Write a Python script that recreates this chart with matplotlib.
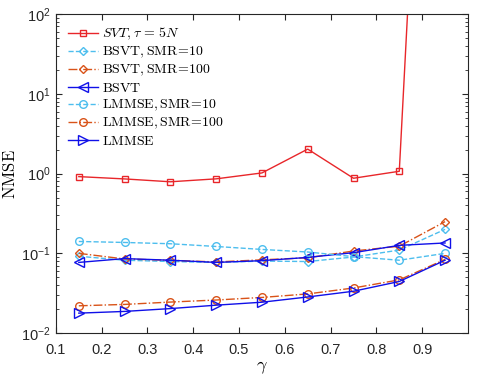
import numpy as np
import matplotlib
matplotlib.use("Agg")
import matplotlib.pyplot as plt
from matplotlib.ticker import FixedLocator, LogLocator, NullFormatter, FuncFormatter

plt.rcParams['font.family'] = ['Liberation Sans', 'DejaVu Sans']
plt.rcParams['mathtext.fontset'] = 'cm'

gamma = [0.15, 0.25, 0.35, 0.45, 0.55, 0.65, 0.75, 0.85, 0.95]

svt = [0.917, 0.858, 0.79, 0.86, 1.02, 2.03, 0.875, 1.07, 1e11]
bsvt_smr10 = [0.092, 0.082, 0.079, 0.077, 0.080, 0.079, 0.090, 0.110, 0.200]
bsvt_smr100 = [0.100, 0.085, 0.082, 0.078, 0.083, 0.088, 0.107, 0.123, 0.250]
bsvt = [0.077, 0.086, 0.082, 0.077, 0.081, 0.089, 0.102, 0.126, 0.135]
lmmse_smr10 = [0.141, 0.137, 0.132, 0.122, 0.112, 0.104, 0.091, 0.082, 0.100]
lmmse_smr100 = [0.0220, 0.0229, 0.0245, 0.0260, 0.0280, 0.0310, 0.0368, 0.0465, 0.084]
lmmse = [0.0178, 0.0187, 0.0203, 0.0224, 0.0244, 0.0284, 0.0335, 0.0444, 0.082]

red = '#E8262A'
lblue = '#4DBEEE'
orange = '#D95319'
blue = '#1010E8'

fig = plt.figure(figsize=(4.78, 3.82), dpi=100)
ax = fig.add_axes([0.117, 0.128, 0.862, 0.835])

ms = 5.5
kw = dict(mfc='none', lw=1, mew=1)
ax.plot(gamma, svt, '-', color=red, marker='s', ms=ms - 0.5, label=r'$SVT, \tau\,=\,5N$', **kw)
ax.plot(gamma, bsvt_smr10, '--', color=lblue, marker='D', ms=ms - 1, label=r'$\mathrm{BSVT, SMR}\!=\!10$', **kw)
ax.plot(gamma, bsvt_smr100, '-.', color=orange, marker='D', ms=ms - 1, label=r'$\mathrm{BSVT, SMR}\!=\!100$', **kw)
ax.plot(gamma, bsvt, '-', color=blue, marker='<', ms=ms + 1, label=r'$\mathrm{BSVT}$', **kw)
ax.plot(gamma, lmmse_smr10, '--', color=lblue, marker='o', ms=ms, label=r'$\mathrm{LMMSE, SMR}\!=\!10$', **kw)
ax.plot(gamma, lmmse_smr100, '-.', color=orange, marker='o', ms=ms, label=r'$\mathrm{LMMSE, SMR}\!=\!100$', **kw)
ax.plot(gamma, lmmse, '-', color=blue, marker='>', ms=ms + 1, label=r'$\mathrm{LMMSE}$', **kw)

ax.set_yscale('log')
ax.set_xlim(0.1, 1.0)
ax.set_ylim(1e-2, 1e2)
ax.xaxis.set_major_locator(FixedLocator([0.1, 0.2, 0.3, 0.4, 0.5, 0.6, 0.7, 0.8, 0.9]))
ax.xaxis.set_major_formatter(FuncFormatter(lambda v, p: '%.1f' % v))
ax.yaxis.set_major_locator(FixedLocator([1e-2, 1e-1, 1e0, 1e1, 1e2]))
ax.yaxis.set_major_formatter(FuncFormatter(
    lambda v, p: r'$\mathregular{10^{%d}}$' % int(round(np.log10(v)))))
ax.yaxis.set_minor_locator(LogLocator(base=10, subs=np.arange(2, 10)))
ax.yaxis.set_minor_formatter(NullFormatter())

ax.tick_params(which='both', direction='in', top=True, right=True,
               labelsize=10.5, colors='#262626')
ax.tick_params(which='major', length=4)
ax.tick_params(which='minor', length=2)
ax.tick_params(axis='x', pad=7)
ax.tick_params(axis='y', pad=4)
for s in ax.spines.values():
    s.set_color('#262626')
    s.set_linewidth(0.8)

ax.set_xlabel(r'$\gamma$', fontsize=13)
ax.set_ylabel(r'$\mathrm{NMSE}$', fontsize=12)
ax.xaxis.set_label_coords(0.5, -0.08)
ax.yaxis.set_label_coords(-0.093, 0.5)

ax.legend(loc='upper left', frameon=False, fontsize=10, handlelength=2.2,
          labelspacing=0.18, borderaxespad=0.45, handletextpad=0.3)

fig.savefig('out.png', dpi=100)
